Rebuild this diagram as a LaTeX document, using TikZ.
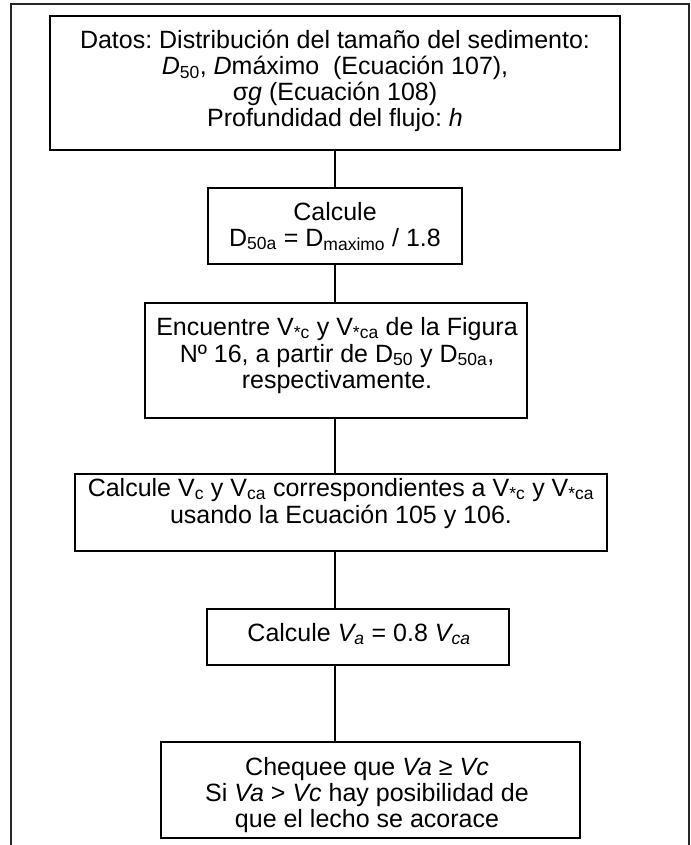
\documentclass[tikz,border=0pt]{standalone}
\usepackage{fontspec}
\setmainfont{Liberation Sans}
\frenchspacing
\begin{document}
\begin{tikzpicture}[x=1pt,y=-1pt,
  box/.style={draw, line width=2pt, inner sep=0pt},
  txt/.style={anchor=base, inner sep=0pt, font=\fontsize{25}{26}\selectfont},
  link/.style={line width=2pt},
  frame/.style={line width=1.3pt, draw=black!85}]
\useasboundingbox (0,0) rectangle (690,845);
\draw[frame] (11,845) -- (11,4) -- (689,4) -- (689,845);
% boxes
\node[box, minimum width=570pt, minimum height=134pt] (b1) at (335,83) {};
\node[box, minimum width=254pt, minimum height=76pt] (b2) at (335,226) {};
\node[box, minimum width=382pt, minimum height=115pt] (b3) at (336,360.5) {};
\node[box, minimum width=532pt, minimum height=77pt] (b4) at (341,512.5) {};
\node[box, minimum width=302pt, minimum height=56pt] (b5) at (358,637) {};
\node[box, minimum width=419pt, minimum height=96pt] (b6) at (370.5,790) {};
% texts
\node[txt] (t1a) at (335,49) {Datos: Distribución del tamaño del sedimento:};
\node[txt] (t1b) at (335,75) {\textit{D}\textsubscript{50}, \textit{D}máximo\ \ (Ecuación 107),};
\node[txt] (t1c) at (335,101) {σ\textit{g} (Ecuación 108)};
\node[txt] (t1d) at (335,127) {Profundidad del flujo: \textit{h}};
\node[txt] (t2a) at (335,220) {Calcule};
\node[txt] (t2b) at (335,246) {D\textsubscript{50a} = D\textsubscript{maximo} / 1.8};
\node[txt] (t3a) at (337,335) {Encuentre V\textsubscript{*c} y V\textsubscript{*ca} de la Figura};
\node[txt] (t3b) at (337,362) {Nº 16, a partir de D\textsubscript{50} y D\textsubscript{50a},};
\node[txt] (t3c) at (337,388) {respectivamente.};
\node[txt] (t4a) at (341,496) {Calcule V\textsubscript{c} y V\textsubscript{ca} correspondientes a V\textsubscript{*c} y V\textsubscript{*ca}};
\node[txt] (t4b) at (341,523) {usando la Ecuación 105 y 106.};
\node[txt] (t5a) at (359,641) {Calcule \textit{V\textsubscript{a}} = 0.8 \textit{V\textsubscript{ca}}};
\node[txt] (t6a) at (367,775) {Chequee que \textit{Va} ≥ \textit{Vc}};
\node[txt] (t6b) at (367,801) {Si \textit{Va} > \textit{Vc} hay posibilidad de};
\node[txt] (t6c) at (367,827) {que el lecho se acorace};
% connectors
\coordinate (spine) at (335,0);
\draw[link] (b1.south -| spine) -- (b2.north -| spine);
\draw[link] (b2.south -| spine) -- (b3.north -| spine);
\draw[link] (b3.south -| spine) -- (b4.north -| spine);
\draw[link] (b4.south -| spine) -- (b5.north -| spine);
\draw[link] (b5.south -| spine) -- (b6.north -| spine);
\end{tikzpicture}
\end{document}
